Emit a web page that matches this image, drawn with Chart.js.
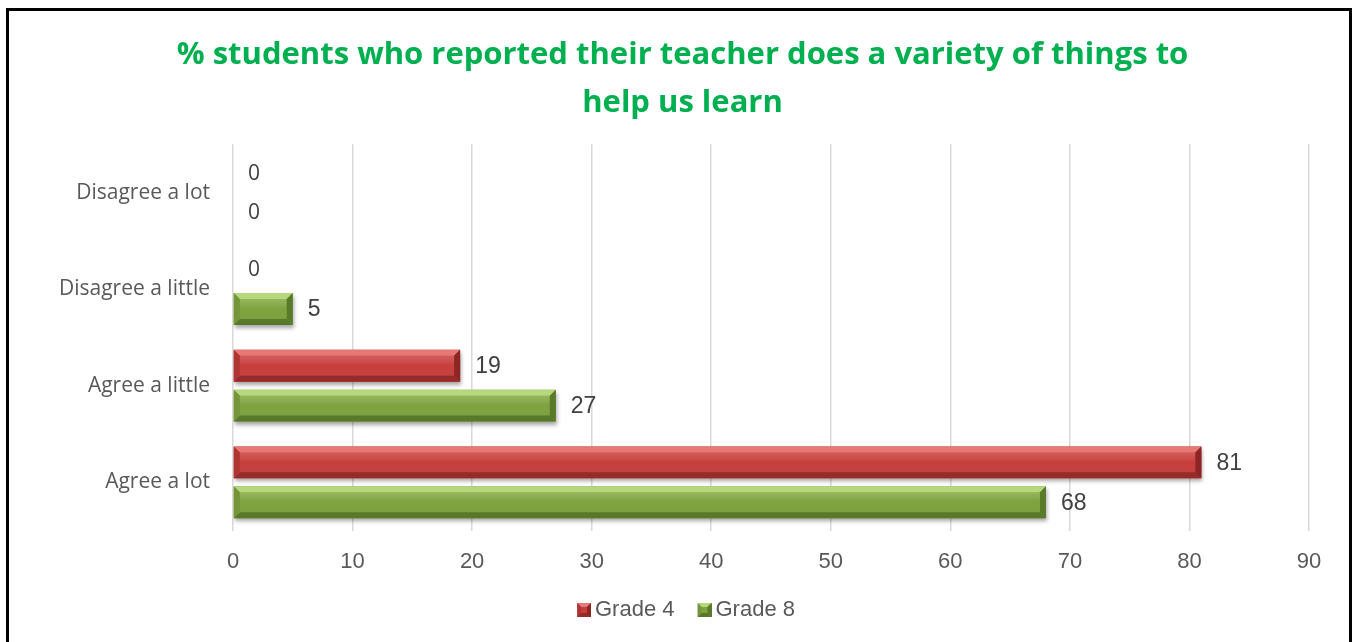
<!DOCTYPE html>
<html>
<head>
<meta charset="utf-8">
<script src="https://cdn.jsdelivr.net/npm/chart.js@4/dist/chart.umd.min.js"></script>
<style>
  html, body { margin: 0; padding: 0; background: #fff; overflow: hidden; }
  #wrap { position: relative; width: 1365px; height: 642px; }
  #frame { position: absolute; left: 6px; top: 8px; width: 1346px; height: 700px;
           border: 3px solid #000; box-sizing: border-box; pointer-events: none; }
  canvas { position: absolute; left: 0; top: 0; }
</style>
</head>
<body>
<div id="wrap">
  <canvas id="chart" width="1365" height="642"></canvas>
  <div id="frame"></div>
</div>
<script>
// Survey response categories, listed top to bottom
const categories = ['Disagree a lot', 'Disagree a little', 'Agree a little', 'Agree a lot'];
// Percent of students per response
const grade4 = [0, 0, 19, 81];
const grade8 = [0, 5, 27, 68];
// Axis range and step
const axisMin = 0;
const axisMax = 90;
const axisStep = 10;

const titleLines = ['% students who reported their teacher does a variety of things to', 'help us learn'];

// Bevel palettes: face, top, bottom, left, right
const palettes = [
  { face: '#C63E3C', top: '#E67876', bottom: '#962C2A', left: '#B23432', right: '#8C2523', hi: 'rgba(255,160,160,0.35)' },
  { face: '#7EA23E', top: '#B6D77C', bottom: '#5A7829', left: '#74963A', right: '#5B792A', hi: 'rgba(220,255,170,0.35)' }
];

function poly(ctx, pts, color) {
  ctx.beginPath();
  ctx.moveTo(pts[0][0], pts[0][1]);
  for (let i = 1; i < pts.length; i++) ctx.lineTo(pts[i][0], pts[i][1]);
  ctx.closePath();
  ctx.fillStyle = color;
  ctx.fill();
}

// Soft drop shadow under the bars, then bevelled facets and value labels on top
const bevelBars = {
  id: 'bevelBars',
  beforeDatasetsDraw(chart) {
    const ctx = chart.ctx;
    ctx.save();
    ctx.shadowColor = 'rgba(0,0,0,0.35)';
    ctx.shadowBlur = 4;
    ctx.shadowOffsetX = 1;
    ctx.shadowOffsetY = 3;
  },
  afterDatasetsDraw(chart) {
    const ctx = chart.ctx;
    ctx.restore();
    chart.data.datasets.forEach((ds, di) => {
      const meta = chart.getDatasetMeta(di);
      const pal = palettes[di];
      meta.data.forEach((bar, i) => {
        const x0 = Math.min(bar.base, bar.x), x1 = Math.max(bar.base, bar.x);
        const y0 = bar.y - bar.height / 2, y1 = bar.y + bar.height / 2;
        const w = x1 - x0;
        if (w >= 1) {
          const b = Math.min(6, w / 2, bar.height / 2);
          const g = ctx.createLinearGradient(0, y0, 0, y1);
          g.addColorStop(0, pal.hi);
          g.addColorStop(0.5, 'rgba(255,255,255,0)');
          g.addColorStop(1, 'rgba(0,0,0,0.08)');
          ctx.fillStyle = g;
          ctx.fillRect(x0 + b, y0 + b, w - 2 * b, bar.height - 2 * b);
          poly(ctx, [[x0, y0], [x1, y0], [x1 - b, y0 + b], [x0 + b, y0 + b]], pal.top);
          poly(ctx, [[x0, y1], [x1, y1], [x1 - b, y1 - b], [x0 + b, y1 - b]], pal.bottom);
          poly(ctx, [[x0, y0], [x0 + b, y0 + b], [x0 + b, y1 - b], [x0, y1]], pal.left);
          poly(ctx, [[x1, y0], [x1 - b, y0 + b], [x1 - b, y1 - b], [x1, y1]], pal.right);
        }
        const v = ds.data[i];
        ctx.save();
        ctx.textAlign = 'left';
        ctx.textBaseline = 'middle';
        ctx.fillStyle = '#404040';
        ctx.font = v === 0 ? '21px "Open Sans"' : '23px "Liberation Sans", Arial';
        ctx.fillText(String(v), x1 + 15, bar.y + 1);
        ctx.restore();
      });
    });
  }
};

// Legend swatch: bevelled square sitting on the right half of the image,
// so it ends up close to its label text
function legendSwatch(pal) {
  const c = document.createElement('canvas');
  c.width = 28; c.height = 14;
  const x = c.getContext('2d');
  x.translate(14, 0);
  x.fillStyle = pal.face; x.fillRect(0, 0, 14, 14);
  poly(x, [[0, 0], [14, 0], [10, 4], [4, 4]], pal.top);
  poly(x, [[0, 14], [14, 14], [10, 10], [4, 10]], pal.bottom);
  poly(x, [[0, 0], [4, 4], [4, 10], [0, 14]], pal.left);
  poly(x, [[14, 0], [10, 4], [10, 10], [14, 14]], pal.right);
  return c;
}

new Chart(document.getElementById('chart'), {
  type: 'bar',
  data: {
    labels: categories,
    datasets: [
      { label: 'Grade 4', data: grade4, backgroundColor: palettes[0].face, borderWidth: 0 },
      { label: 'Grade 8', data: grade8, backgroundColor: palettes[1].face, borderWidth: 0 }
    ]
  },
  options: {
    indexAxis: 'y',
    responsive: false,
    animation: false,
    categoryPercentage: 0.825,
    barPercentage: 0.8,
    layout: { padding: { top: 32, right: 56, bottom: 11, left: 56 } },
    scales: {
      x: {
        min: axisMin,
        max: axisMax,
        grid: { color: '#D9D9D9', lineWidth: 1.5, drawTicks: false },
        border: { display: false },
        afterFit(scale) { scale.height -= 10; },
        ticks: {
          stepSize: axisStep,
          padding: 18,
          color: '#595959',
          font: { family: '"Liberation Sans", Arial', size: 22 }
        }
      },
      y: {
        grid: { display: false, drawTicks: false },
        border: { display: false },
        afterFit(scale) { scale.width = 177; },
        ticks: {
          padding: 23,
          color: '#595959',
          font: { family: '"Open Sans"', size: 21 }
        }
      }
    },
    plugins: {
      title: {
        display: true,
        text: titleLines,
        color: '#00B050',
        font: { family: '"Open Sans"', size: 31, weight: 'bold', lineHeight: 1.52 },
        padding: { top: 0, bottom: 18 }
      },
      legend: {
        position: 'bottom',
        labels: {
          color: '#595959',
          font: { family: '"Liberation Sans", Arial', size: 22 },
          boxWidth: 14,
          boxHeight: 14,
          padding: 16,
          usePointStyle: true,
          generateLabels(chart) {
            return chart.data.datasets.map((ds, i) => ({
              text: ds.label,
              fontColor: '#595959',
              pointStyle: legendSwatch(palettes[i]),
              fillStyle: palettes[i].face,
              strokeStyle: palettes[i].face,
              lineWidth: 0,
              datasetIndex: i,
              hidden: false
            }));
          }
        }
      },
      tooltip: { enabled: false }
    }
  },
  plugins: [bevelBars]
});
</script>
</body>
</html>
